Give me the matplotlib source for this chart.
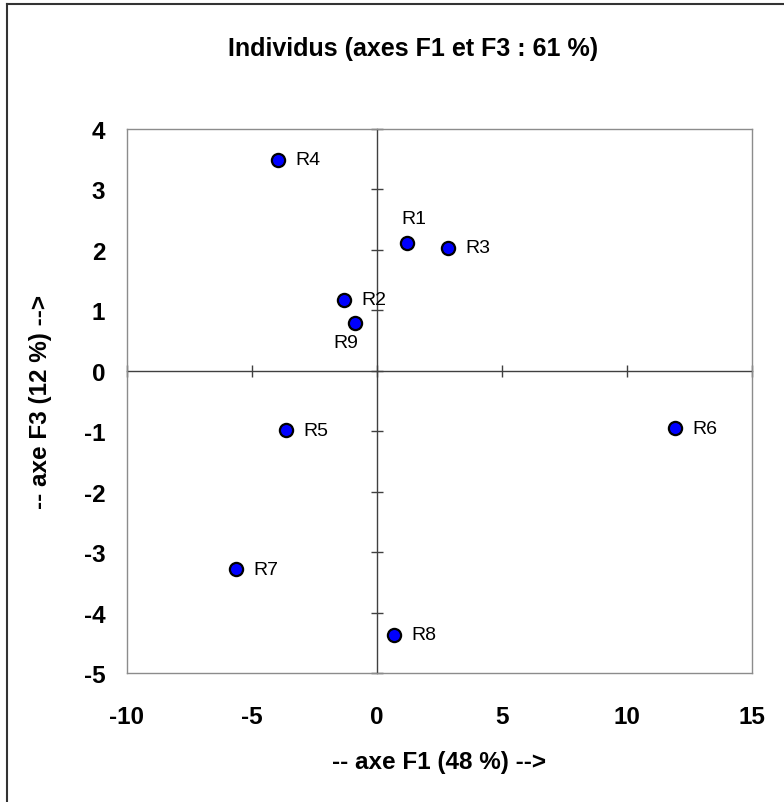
import matplotlib.pyplot as plt
from matplotlib.lines import Line2D

# individus sur les axes F1 / F3
names = ['R1', 'R2', 'R3', 'R4', 'R5', 'R6', 'R7', 'R8', 'R9']
f1 = [1.21, -1.31, 2.87, -3.94, -3.63, 11.93, -5.64, 0.70, -0.85]
f3 = [2.12, 1.18, 2.04, 3.49, -0.98, -0.95, -3.28, -4.36, 0.80]
xticks = [-10, -5, 0, 5, 10, 15]
yticks = [-5, -4, -3, -2, -1, 0, 1, 2, 3, 4]

plt.rcParams['font.family'] = ['Liberation Sans', 'DejaVu Sans']
plt.rcParams['axes.unicode_minus'] = False
plt.rcParams['xtick.direction'] = 'inout'
plt.rcParams['ytick.direction'] = 'inout'
plt.rcParams['xtick.major.size'] = 8
plt.rcParams['ytick.major.size'] = 8

fig = plt.figure(figsize=(7.84, 8.03), dpi=100)
ax = fig.add_axes([0.1616, 0.1603, 0.7972, 0.6778])
xmin, xmax = -10, 15
ymin, ymax = -5, 4
ax.set_xlim(xmin, xmax)
ax.set_ylim(ymin, ymax)

# box + labels on the edges
for s in ax.spines.values():
    s.set_color('#8c8c8c')
    s.set_linewidth(1.0)
ax.set_xticks(xticks)
ax.set_yticks(yticks)
ax.tick_params(axis='x', length=0, pad=23, labelsize=17.5)
ax.tick_params(axis='y', length=0, pad=15.5, labelsize=17.5)
for lab in ax.get_xticklabels() + ax.get_yticklabels():
    lab.set_fontweight('bold')

# zero axes with crossing ticks
sx = ax.secondary_xaxis((0 - ymin) / (ymax - ymin))
sx.set_xticks(xticks, labels=[])
sx.tick_params(direction='inout', length=8, width=1, color='#404040')
for s in sx.spines.values():
    s.set_color('#404040')
    s.set_linewidth(1.0)
sy = ax.secondary_yaxis((0 - xmin) / (xmax - xmin))
sy.set_yticks(yticks, labels=[])
sy.tick_params(direction='inout', length=8, width=1, color='#404040')
for s in sy.spines.values():
    s.set_color('#404040')
    s.set_linewidth(1.0)

ax.plot(f1, f3, linestyle='none', marker='o', markersize=9.5,
        markerfacecolor='#0000ff', markeredgecolor='black', markeredgewidth=1.6, zorder=5)

for n, x, y in zip(names, f1, f3):
    if n == 'R1':
        ax.annotate(n, (x, y), xytext=(-4, 11), textcoords='offset points',
                    ha='left', va='bottom', fontsize=14)
    elif n == 'R9':
        ax.annotate(n, (x, y), xytext=(2, -8), textcoords='offset points',
                    ha='right', va='top', fontsize=14)
    else:
        ax.annotate(n, (x, y), xytext=(12.5, 0), textcoords='offset points',
                    ha='left', va='center', fontsize=14)

ax.set_xlabel('-- axe F1 (48 %) -->', fontsize=17.5, fontweight='bold', labelpad=16)
ax.set_ylabel('-- axe F3 (12 %) -->', fontsize=17.5, fontweight='bold', labelpad=23)
fig.text(413 / 784, 1 - 49 / 803, 'Individus (axes F1 et F3 : 61 %)',
         ha='center', va='center', fontsize=18, fontweight='bold')

# chart area border (left and top visible)
W, H = 784, 803
fig.add_artist(Line2D([7 / W, 7 / W], [0, 1 - 5 / H], color='#333333', linewidth=1.5))
fig.add_artist(Line2D([7 / W, 1], [1 - 5 / H, 1 - 5 / H], color='#333333', linewidth=1.5))

fig.savefig('out.png', dpi=100)
